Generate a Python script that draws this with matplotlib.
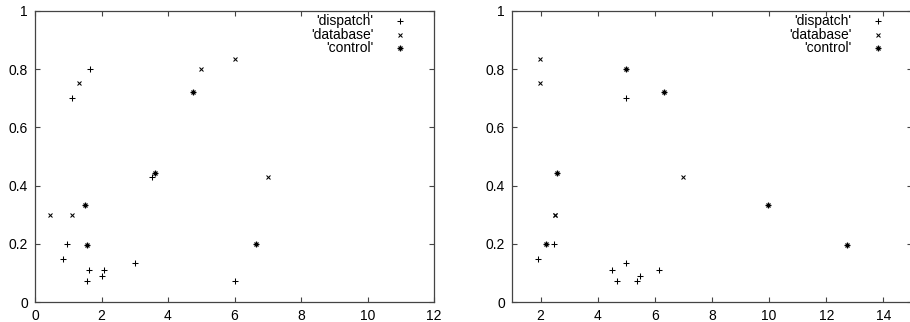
"""
Two gnuplot-style scatter panels: dispatch / database / control points.
"""

import matplotlib
matplotlib.use("Agg")
import matplotlib.pyplot as plt

plt.rcParams["font.family"] = ["Liberation Sans", "DejaVu Sans"]
plt.rcParams["font.size"] = 10

# --- left panel data ---
left_dispatch_x = [1.66, 1.10, 0.95, 0.84, 1.63, 2.07, 2.00, 1.55, 3.00, 3.51, 6.01]
left_dispatch_y = [0.800, 0.700, 0.200, 0.149, 0.111, 0.109, 0.091, 0.071, 0.133, 0.429, 0.073]
left_database_x = [1.33, 0.45, 1.10, 5.00, 6.01, 7.00]
left_database_y = [0.751, 0.300, 0.300, 0.800, 0.834, 0.429]
left_control_x = [1.50, 1.55, 3.60, 4.75, 6.66]
left_control_y = [0.334, 0.196, 0.445, 0.720, 0.200]

# --- right panel data ---
right_dispatch_x = [1.92, 2.48, 4.99, 4.49, 4.66, 4.99, 5.37, 5.48, 6.14]
right_dispatch_y = [0.149, 0.200, 0.700, 0.111, 0.071, 0.133, 0.073, 0.091, 0.109]
right_database_x = [1.99, 1.99, 6.97, 2.49, 2.50]
right_database_y = [0.834, 0.751, 0.429, 0.300, 0.300]
right_control_x = [4.99, 6.31, 2.56, 2.20, 9.96, 12.71]
right_control_y = [0.800, 0.720, 0.445, 0.200, 0.334, 0.196]

series_names = ["'dispatch'", "'database'", "'control'"]
left_xticks = [0, 2, 4, 6, 8, 10, 12]
right_xticks = [2, 4, 6, 8, 10, 12, 14]
yticks = [0, 0.2, 0.4, 0.6, 0.8, 1]

W, H = 910, 322
AX_COLOR = "#444444"
MS = 4.5


def draw_marker(ax, x, y, kind, **kw):
    if kind == "plus":
        ax.plot(x, y, ls="none", marker="+", ms=MS, mew=0.75, color="black", **kw)
    elif kind == "cross":
        ax.plot(x, y, ls="none", marker="x", ms=MS - 1.2, mew=0.75, color="black", **kw)
    else:
        ax.plot(x, y, ls="none", marker="+", ms=MS - 0.8, mew=0.9, color="black", **kw)
        ax.plot(x, y, ls="none", marker="x", ms=MS - 1.2, mew=0.9, color="black", **kw)


def style_axes(ax, xlim, xticks):
    ax.set_xlim(*xlim)
    ax.set_ylim(0, 1)
    ax.set_xticks(xticks)
    ax.set_yticks(yticks)
    ax.set_yticklabels([f"{v:g}" for v in yticks])
    ax.tick_params(direction="in", length=3.6, width=0.8, color=AX_COLOR,
                   top=True, right=True, pad=5, labelsize=10)
    for s in ax.spines.values():
        s.set_color(AX_COLOR)
        s.set_linewidth(0.9)


def legend(ax):
    kinds = ["plus", "cross", "star"]
    rows = [0.966, 0.918, 0.873]
    for name, kind, yy in zip(series_names, kinds, rows):
        ax.text(0.848, yy, name, transform=ax.transAxes, ha="right", va="center", fontsize=10)
        draw_marker(ax, [0.916], [yy], kind, transform=ax.transAxes, clip_on=False)


fig = plt.figure(figsize=(W / 100, H / 100), dpi=100)

ax1 = fig.add_axes([35 / W, (H - 302) / H, 399 / W, 291 / H])
draw_marker(ax1, left_dispatch_x, left_dispatch_y, "plus")
draw_marker(ax1, left_database_x, left_database_y, "cross")
draw_marker(ax1, left_control_x, left_control_y, "star")
style_axes(ax1, (0, 12), left_xticks)
legend(ax1)

ax2 = fig.add_axes([512 / W, (H - 302) / H, 400 / W, 291 / H])
draw_marker(ax2, right_dispatch_x, right_dispatch_y, "plus")
draw_marker(ax2, right_database_x, right_database_y, "cross")
draw_marker(ax2, right_control_x, right_control_y, "star")
style_axes(ax2, (1, 15), right_xticks)
legend(ax2)

fig.savefig("out.png", dpi=100)
